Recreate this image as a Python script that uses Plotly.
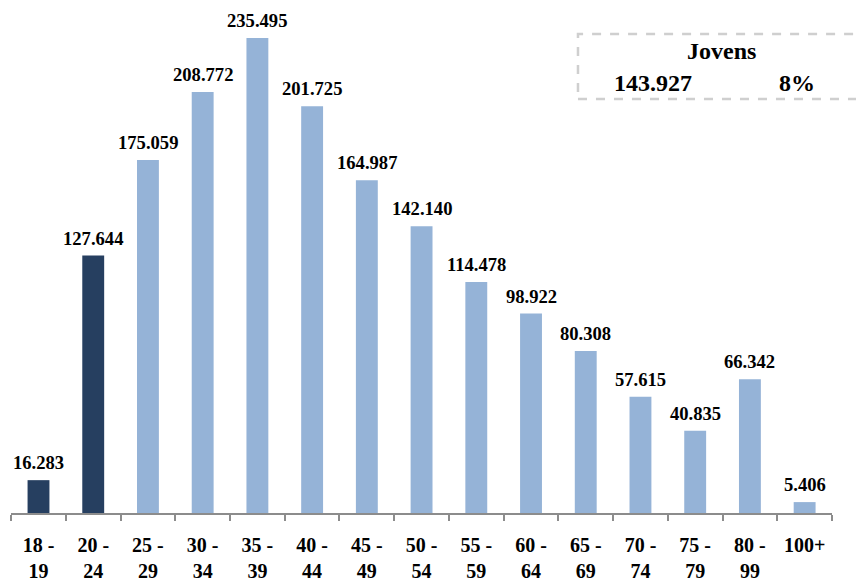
import plotly.graph_objects as go

categories = ["18 - 19", "20 - 24", "25 - 29", "30 - 34", "35 - 39", "40 - 44", "45 - 49",
              "50 - 54", "55 - 59", "60 - 64", "65 - 69", "70 - 74", "75 - 79", "80 - 99", "100+"]
tick_labels = ["18 -<br>19", "20 -<br>24", "25 -<br>29", "30 -<br>34", "35 -<br>39", "40 -<br>44",
               "45 -<br>49", "50 -<br>54", "55 -<br>59", "60 -<br>64", "65 -<br>69", "70 -<br>74",
               "75 -<br>79", "80 -<br>99", "100+"]
values = [16283, 127644, 175059, 208772, 235495, 201725, 164987, 142140,
          114478, 98922, 80308, 57615, 40835, 66342, 5406]
young_count = 2  # first two groups are "Jovens"

DARK = "#263f60"
LIGHT = "#95b3d7"
FONT = "Liberation Serif"


def fmt(v):
    return f"{v:,}".replace(",", ".")


colors = [DARK if i < young_count else LIGHT for i in range(len(values))]
jovens_total = sum(values[:young_count])
jovens_pct = round(100 * jovens_total / sum(values))

fig = go.Figure()
fig.add_trace(go.Bar(x=categories, y=values, marker=dict(color=colors, line=dict(width=0)),
                     hoverinfo="x+y"))

for c, v in zip(categories, values):
    fig.add_annotation(x=c, y=v, text=f"<b>{fmt(v)}</b>", showarrow=False,
                       xanchor="center", yanchor="bottom", yshift=5,
                       font=dict(family=FONT, size=18.6, color="black"))

# Summary box
fig.add_shape(type="rect", xref="paper", yref="paper", x0=0.6906, x1=1.0378, y0=0.8198, y1=0.9485,
              line=dict(color="#cfcfcf", width=2.5, dash="dash"), fillcolor="rgba(0,0,0,0)")
fig.add_annotation(xref="paper", yref="paper", x=0.866, y=0.9149, text="<b>Jovens</b>",
                   showarrow=False, xanchor="center", yanchor="middle",
                   font=dict(family=FONT, size=24, color="black"))
fig.add_annotation(xref="paper", yref="paper", x=0.7820, y=0.8515, text=f"<b>{fmt(jovens_total)}</b>",
                   showarrow=False, xanchor="center", yanchor="middle",
                   font=dict(family=FONT, size=24, color="black"))
fig.add_annotation(xref="paper", yref="paper", x=0.9574, y=0.8515, text=f"<b>{jovens_pct}%</b>",
                   showarrow=False, xanchor="center", yanchor="middle",
                   font=dict(family=FONT, size=24, color="black"))

fig.update_layout(
    width=856, height=574,
    margin=dict(l=3, r=32, t=0, b=69),
    plot_bgcolor="white", paper_bgcolor="white",
    bargap=0.6, showlegend=False,
    xaxis=dict(type="category", tickmode="array", tickvals=categories, ticktext=tick_labels,
               showline=True, linecolor="#8c8c8c", linewidth=1.5,
               ticks="outside", tickson="boundaries", ticklen=6, tickcolor="#8c8c8c", tickwidth=1.5,
               showgrid=False, ticklabelstandoff=13,
               tickfont=dict(family=FONT, size=20, color="black", weight="bold")),
    yaxis=dict(visible=False, range=[0, 250400], showgrid=False, zeroline=False),
)

fig.write_html("out.html")
